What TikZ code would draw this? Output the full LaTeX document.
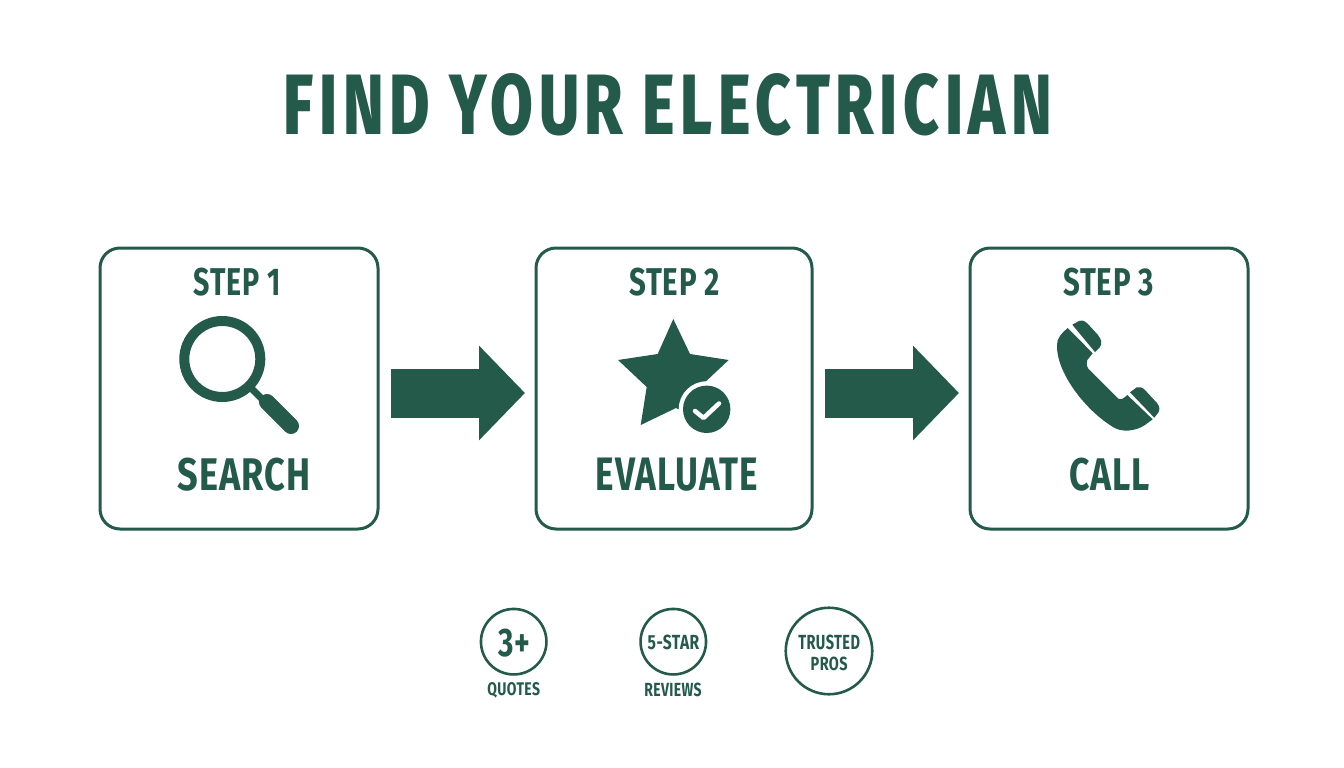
\documentclass[tikz,border=0pt]{standalone}
\usepackage{fontspec}
\usepackage{graphicx}
\usetikzlibrary{arrows.meta}
\setmainfont{Fira Sans}[BoldFont=* Bold]
\newfontface\heavyface{Fira Sans ExtraBold}[LetterSpace=9]
\definecolor{pine}{HTML}{245A4A}
\newcommand{\fitlabel}[3]{\resizebox{#1pt}{#2pt}{\bfseries\addfontfeature{LetterSpace=3}#3}}
\newcommand{\fittitle}[3]{\resizebox{#1pt}{#2pt}{\heavyface #3}}
\tikzset{
  lbl/.style={inner sep=0pt,outer sep=0pt,anchor=base,text=pine},
  card/.style={draw=pine,line width=3pt,rounded corners=20pt,fill=white,inner sep=0pt,minimum height=281pt},
  badge/.style={draw=pine,line width=2.6pt,circle,inner sep=0pt,fill=white},
  flow/.style={draw=pine,line width=49pt,-{Triangle[length=46pt,width=92pt,fill=pine]},shorten <=11.5pt,shorten >=9.5pt},
  ink/.style={fill=pine,draw=none}
}
\begin{document}
\begin{tikzpicture}[x=1pt,y=-1pt]
\useasboundingbox (0,0) rectangle (1344,768);
\fill[white] (0,0) rectangle (1344,768);
% title
\node[lbl] (title) at (668,135) {\fittitle{768}{61}{FIND YOUR ELECTRICIAN}};
% cards
\node[card,minimum width=278pt] (c1) at (239,388.5) {};
\node[card,minimum width=276pt] (c2) at (674,388.5) {};
\node[card,minimum width=278pt] (c3) at (1109,388.5) {};
% arrows
\draw[flow] ([yshift=-4.5pt]c1.east) -- ([yshift=-4.5pt]c2.west);
\draw[flow] ([yshift=-4.5pt]c2.east) -- ([yshift=-4.5pt]c3.west);
% card labels
\node[lbl] (s1) at (237.5,295.5) {\fitlabel{87}{27.5}{STEP 1}};
\node[lbl] (s2) at (674.5,295.5) {\fitlabel{91}{27.5}{STEP 2}};
\node[lbl] (s3) at (1108.5,295.5) {\fitlabel{91}{27.5}{STEP 3}};
\node[lbl] (w1) at (244,490.5) {\fitlabel{133}{32.5}{SEARCH}};
\node[lbl] (w2) at (677,490.5) {\fitlabel{162}{32.5}{EVALUATE}};
\node[lbl] (w3) at (1109.5,490.5) {\fitlabel{81}{32.5}{CALL}};
% magnifier
\draw[pine,line width=10pt] (222.3,359) circle (38pt);
\draw[pine,line width=7pt] (248,385) -- (264,401);
\draw[pine,line width=16pt,line cap=round] (267,402) -- (291,426);
% star
\fill[ink] (673.3,319) -- (690,354) -- (728.7,360) -- (702,385) -- (708,425) -- (676,408) -- (640.7,425) -- (646.7,387) -- (618,360) -- (657.7,354) -- cycle;
\fill[white] (706.7,409.3) circle (28pt);
\fill[ink] (706.7,409.3) circle (23.7pt);
\draw[white,line width=4.5pt,line cap=round,line join=round] (695,411) -- (703.5,418) -- (719,403.5);
% phone
\fill[ink] (1067.7,328) -- (1092.7,353.3) -- (1087.3,360) .. controls (1086,365) and (1087,367) .. (1088.3,368.7) -- (1118.3,398.7) .. controls (1120,400) and (1122,400) .. (1127.3,395) -- (1152.7,419.3) -- (1145,425) .. controls (1136,431) and (1122,433) .. (1113,427) .. controls (1085,410) and (1056,372) .. (1057,345) .. controls (1057,338) and (1061,334) .. (1067.7,328) -- cycle;
\fill[ink] (1072.3,324.7) -- (1079,321) .. controls (1083,320) and (1085,321) .. (1087,323) -- (1098,335) .. controls (1102,340) and (1102,344) .. (1100,347) -- (1095,352) -- cycle;
\fill[ink] (1130,392.3) -- (1136.7,387.3) .. controls (1140,386.5) and (1142,387.5) .. (1144,389) -- (1157,403) .. controls (1160,407) and (1160,410) .. (1158,413) -- (1154.3,417.7) -- cycle;
% badges
\node[badge,minimum size=65.5pt] (b1) at (513.7,641.7) {};
\node[badge,minimum size=65.5pt] (b2) at (673.3,641.7) {};
\node[badge,minimum size=86.5pt] (b3) at (829,651) {};
\node[lbl] (t1) at (514,656.5) {\fitlabel{32}{27.5}{3+}};
\node[lbl] (t2) at (673.5,649.7) {\fitlabel{51.6}{14.5}{5-STAR}};
\node[lbl] (t3) at (829.2,649.7) {\fitlabel{61.7}{14.5}{TRUSTED}};
\node[lbl] (t4) at (829.2,670.4) {\fitlabel{37}{13.5}{PROS}};
\node[lbl] (t5) at (513.7,695.5) {\fitlabel{52.7}{13}{QUOTES}};
\node[lbl] (t6) at (673,696.4) {\fitlabel{57.4}{13.5}{REVIEWS}};
\end{tikzpicture}
\end{document}
